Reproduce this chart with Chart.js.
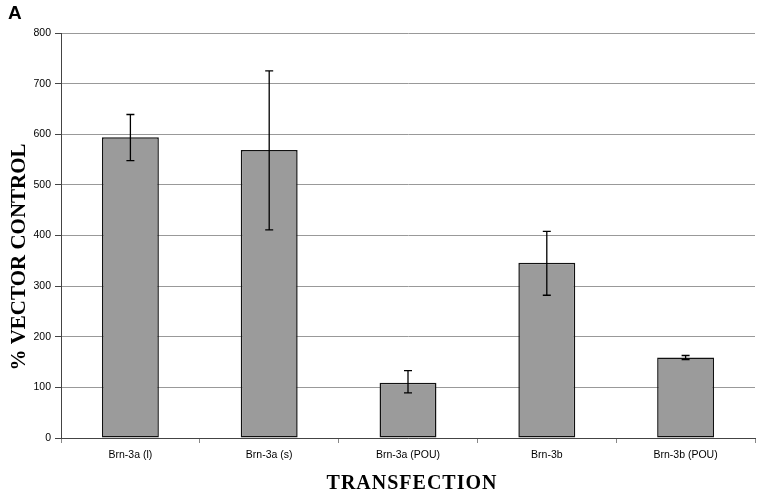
<!DOCTYPE html>
<html>
<head>
<meta charset="utf-8">
<script src="https://cdn.jsdelivr.net/npm/chart.js@4.4.0/dist/chart.umd.min.js"></script>
<style>
  html, body { margin: 0; padding: 0; background: #fff; }
  #wrap { width: 775px; height: 498px; }
</style>
</head>
<body>
<div id="wrap"><canvas id="chart"></canvas></div>
<script>
const categories = ['Brn-3a (l)', 'Brn-3a (s)', 'Brn-3a (POU)', 'Brn-3b', 'Brn-3b (POU)'];
const values = [594, 569, 109, 346, 159];
const errLow = [548, 411, 89, 282, 155];
const errHigh = [639, 725, 133, 408, 163];
const yTicks = [0, 100, 200, 300, 400, 500, 600, 700, 800];

const errorBars = {
  id: 'errorBars',
  afterDatasetsDraw(chart) {
    const ctx = chart.ctx, x = chart.scales.x, y = chart.scales.y;
    ctx.save();
    ctx.strokeStyle = '#000';
    ctx.lineWidth = 1.3;
    categories.forEach((c, i) => {
      const px = x.getPixelForValue(i);
      const top = y.getPixelForValue(errHigh[i]);
      const bot = y.getPixelForValue(errLow[i]);
      ctx.beginPath();
      ctx.moveTo(px, top); ctx.lineTo(px, bot);
      ctx.moveTo(px - 4, top); ctx.lineTo(px + 4, top);
      ctx.moveTo(px - 4, bot); ctx.lineTo(px + 4, bot);
      ctx.stroke();
    });
    ctx.restore();
  }
};

const titles = {
  id: 'titles',
  afterDraw(chart) {
    const ctx = chart.ctx;
    ctx.save();
    ctx.fillStyle = '#000';
    ctx.font = 'bold 19px "Liberation Sans", Arial, sans-serif';
    ctx.textAlign = 'left';
    ctx.textBaseline = 'top';
    ctx.fillText('A', 8, 4);

    ctx.font = 'bold 20px "Liberation Serif", "Times New Roman", serif';
    ctx.letterSpacing = '1px';
    ctx.textAlign = 'center';
    ctx.textBaseline = 'middle';
    ctx.fillText('TRANSFECTION', 412, 484);

    ctx.translate(20, 257);
    ctx.rotate(-Math.PI / 2);
    ctx.font = 'bold 21px "Liberation Serif", "Times New Roman", serif';
    ctx.letterSpacing = '0px';
    ctx.fillText('% VECTOR CONTROL', 0, 0);
    ctx.restore();
  }
};

new Chart(document.getElementById('chart'), {
  type: 'bar',
  data: {
    labels: categories,
    datasets: [{
      data: values,
      backgroundColor: '#9b9b9b',
      borderColor: '#111',
      borderWidth: 1.5,
      borderSkipped: false,
      barPercentage: 0.41,
      categoryPercentage: 1
    }]
  },
  options: {
    responsive: true,
    maintainAspectRatio: false,
    animation: false,
    layout: { padding: { top: 33, right: 20, left: 0, bottom: 0 } },
    plugins: { legend: { display: false }, tooltip: { enabled: false } },
    scales: {
      x: {
        afterFit(scale) { scale.height = 60; },
        grid: { offset: true, drawOnChartArea: false, drawTicks: true, tickLength: 5, color: '#888' },
        border: { color: '#444', width: 1 },
        ticks: { color: '#000', font: { family: '"Liberation Sans Narrow", "Liberation Sans", Arial', size: 10.5 }, padding: 6 }
      },
      y: {
        min: 0, max: 800,
        afterFit(scale) { scale.width = 61; },
        afterBuildTicks(scale) { scale.ticks = yTicks.map(v => ({ value: v })); },
        grid: { color: '#999', lineWidth: 1, tickLength: 6, tickColor: '#444' },
        border: { color: '#444', width: 1 },
        ticks: { color: '#000', font: { family: '"Liberation Sans", Arial', size: 10.5 }, padding: 4 }
      }
    }
  },
  plugins: [errorBars, titles]
});
</script>
</body>
</html>
